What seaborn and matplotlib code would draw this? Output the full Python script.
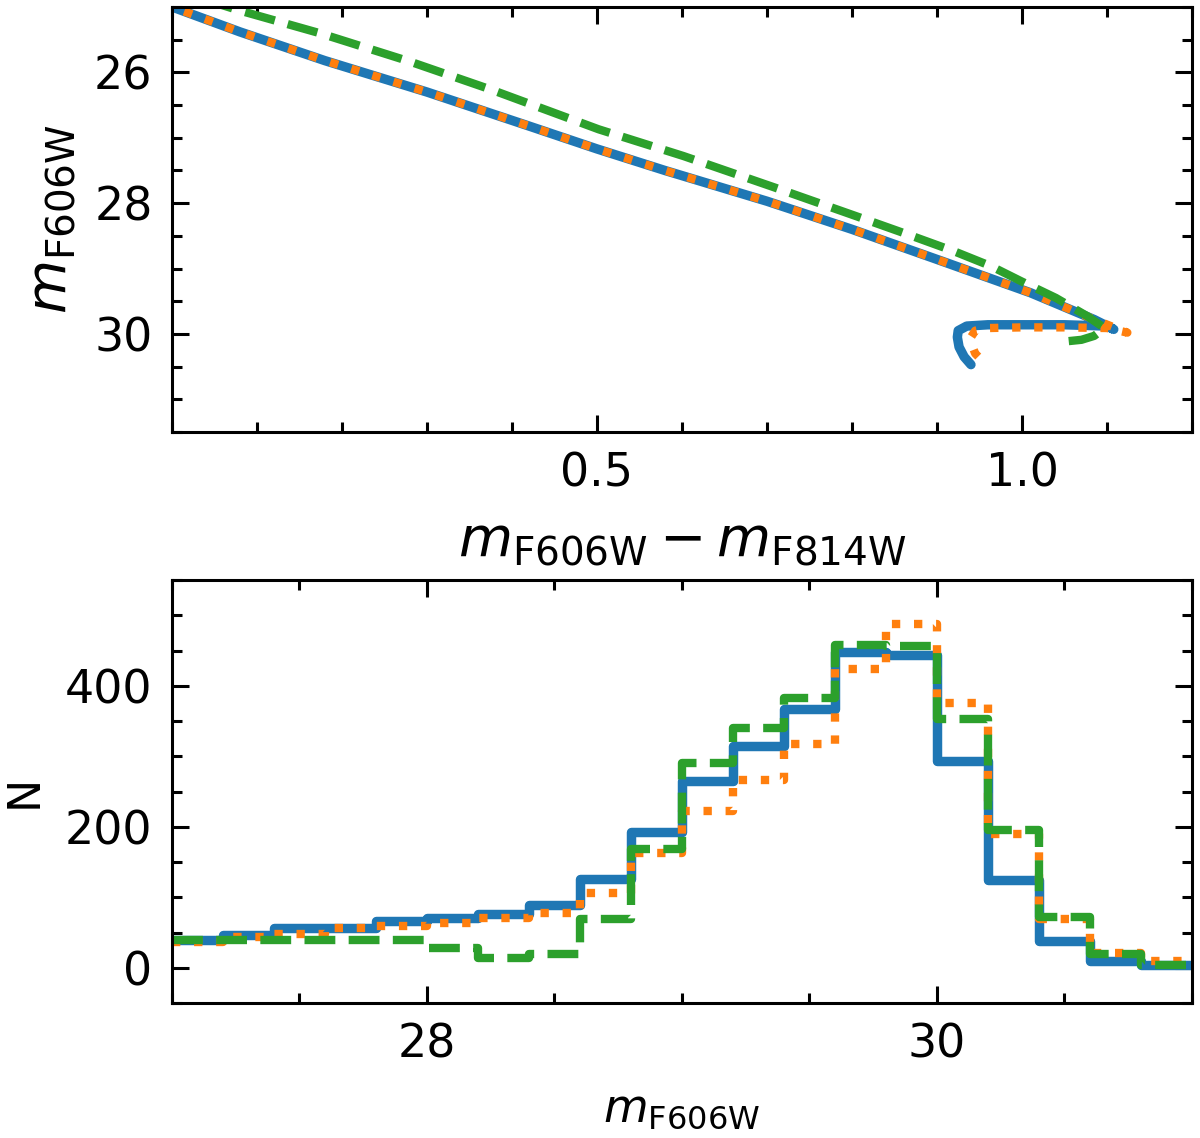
import numpy as np
import pandas as pd
import matplotlib
matplotlib.use("Agg")
import matplotlib.pyplot as plt
import seaborn as sns
from matplotlib.ticker import MultipleLocator

# ---------------- data: colour-magnitude tracks (top panel) ----------------
blue_color = [-0.01, 0.08, 0.18, 0.30, 0.42, 0.50, 0.58, 0.70, 0.80, 0.90, 1.01, 1.085, 1.108,
              1.10, 1.05, 1.00, 0.96, 0.935, 0.925, 0.924, 0.926, 0.932, 0.94]
blue_mag = [24.95, 25.38, 25.82, 26.30, 26.82, 27.17, 27.50, 27.97, 28.40, 28.86, 29.37, 29.78, 29.93,
            29.88, 29.86, 29.86, 29.86, 29.88, 29.95, 30.05, 30.20, 30.35, 30.47]

orange_color = [-0.01, 0.08, 0.18, 0.30, 0.42, 0.50, 0.58, 0.70, 0.80, 0.90, 1.01, 1.085, 1.124,
                1.10, 1.05, 1.00, 0.96, 0.945, 0.94, 0.942, 0.945, 0.955]
orange_mag = [24.95, 25.38, 25.82, 26.30, 26.82, 27.17, 27.50, 27.97, 28.40, 28.86, 29.37, 29.78, 29.98,
              29.91, 29.90, 29.90, 29.91, 29.95, 30.05, 30.20, 30.30, 30.43]

green_color = [0.03, 0.076, 0.174, 0.279, 0.377, 0.502, 0.602, 0.709, 0.814, 0.866, 0.919, 0.963,
               1.00, 1.04, 1.077, 1.097, 1.085, 1.07, 1.055]
green_mag = [24.85, 25.04, 25.40, 25.83, 26.27, 26.87, 27.28, 27.76, 28.24, 28.48, 28.73, 28.96,
             29.20, 29.45, 29.73, 29.91, 30.03, 30.09, 30.11]

# ---------------- data: luminosity function (bottom panel) ----------------
bin_edges = [27.0, 27.2, 27.4, 27.6, 27.8, 28.0, 28.2, 28.4, 28.6, 28.8, 29.0,
             29.2, 29.4, 29.6, 29.8, 30.0, 30.2, 30.4, 30.6, 30.8, 31.0]
blue_N = [40, 46, 56, 56, 66, 70, 76, 89, 126, 192, 265, 315, 367, 448, 443, 294, 124, 38, 10, 4]
orange_N = [36, 44, 48, 57, 59, 63, 70, 78, 106, 163, 223, 267, 317, 424, 488, 375, 190, 69, 21, 9]
green_N = [40, 40, 39, 39, 39, 28, 14, 19, 69, 168, 291, 340, 382, 458, 457, 353, 195, 72, 19, 4]

C_BLUE, C_ORANGE, C_GREEN = "#1f77b4", "#ff7f0e", "#2ca02c"

sns.set_style("ticks")
plt.rcParams["font.family"] = ["DejaVu Sans"]
plt.rcParams["mathtext.fontset"] = "dejavusans"
plt.rcParams["text.color"] = "black"
plt.rcParams["axes.labelcolor"] = "black"
plt.rcParams["xtick.color"] = "black"
plt.rcParams["ytick.color"] = "black"

fig = plt.figure(figsize=(6, 5.69), dpi=200)
ax1 = fig.add_axes([0.1433, 0.6204, 0.85, 0.3734])
ax2 = fig.add_axes([0.1433, 0.1186, 0.85, 0.3717])

# top panel
tracks = [
    (blue_color, blue_mag, C_BLUE, "-", 3.4),
    (orange_color, orange_mag, C_ORANGE, ":", 3.0),
    (green_color, green_mag, C_GREEN, "--", 3.0),
]
for cx, my, col, ls, lw in tracks:
    df = pd.DataFrame({"color": cx, "mag": my})
    sns.lineplot(data=df, x="color", y="mag", sort=False, estimator=None,
                 color=col, linestyle=ls, linewidth=lw, ax=ax1)

ax1.set_xlim(0.0, 1.2)
ax1.set_ylim(31.5, 25.0)
ax1.xaxis.set_major_locator(MultipleLocator(0.5))
ax1.xaxis.set_minor_locator(MultipleLocator(0.1))
ax1.yaxis.set_major_locator(MultipleLocator(2))
ax1.yaxis.set_minor_locator(MultipleLocator(0.5))
ax1.set_xticks([0.5, 1.0])
ax1.set_xticklabels(["0.5", "1.0"])
ax1.set_xlabel(r"$m_{\rm F606W} - m_{\rm F814W}$", fontsize=20, labelpad=6)
ax1.set_ylabel(r"$m_{\rm F606W}$", fontsize=20, labelpad=6)

# bottom panel
centers = [(a + b) / 2 for a, b in zip(bin_edges[:-1], bin_edges[1:])]
hists = [
    (blue_N, C_BLUE, "-", 3.4),
    (orange_N, C_ORANGE, ":", 3.0),
    (green_N, C_GREEN, "--", 3.0),
]
for counts, col, ls, lw in hists:
    sns.histplot(x=centers, weights=counts, bins=bin_edges, element="step",
                 fill=False, color=col, linestyle=ls, linewidth=lw, ax=ax2)

ax2.set_xlim(27.0, 31.0)
ax2.set_ylim(-50, 550)
ax2.xaxis.set_major_locator(MultipleLocator(2))
ax2.xaxis.set_minor_locator(MultipleLocator(0.5))
ax2.yaxis.set_major_locator(MultipleLocator(200))
ax2.yaxis.set_minor_locator(MultipleLocator(50))
ax2.set_xlabel(r"$m_{\rm F606W}$", fontsize=16.5, labelpad=7)
ax2.set_ylabel("N", fontsize=16, labelpad=7)

for ax in (ax1, ax2):
    ax.tick_params(which="both", direction="in", top=True, right=True,
                   width=1.1, labelsize=16.5, pad=7, color="black", labelcolor="black")
    ax.tick_params(which="major", length=6)
    ax.tick_params(which="minor", length=3.5)
    for sp in ax.spines.values():
        sp.set_linewidth(1.1)
        sp.set_color("black")

fig.savefig("out.png", dpi=200)
